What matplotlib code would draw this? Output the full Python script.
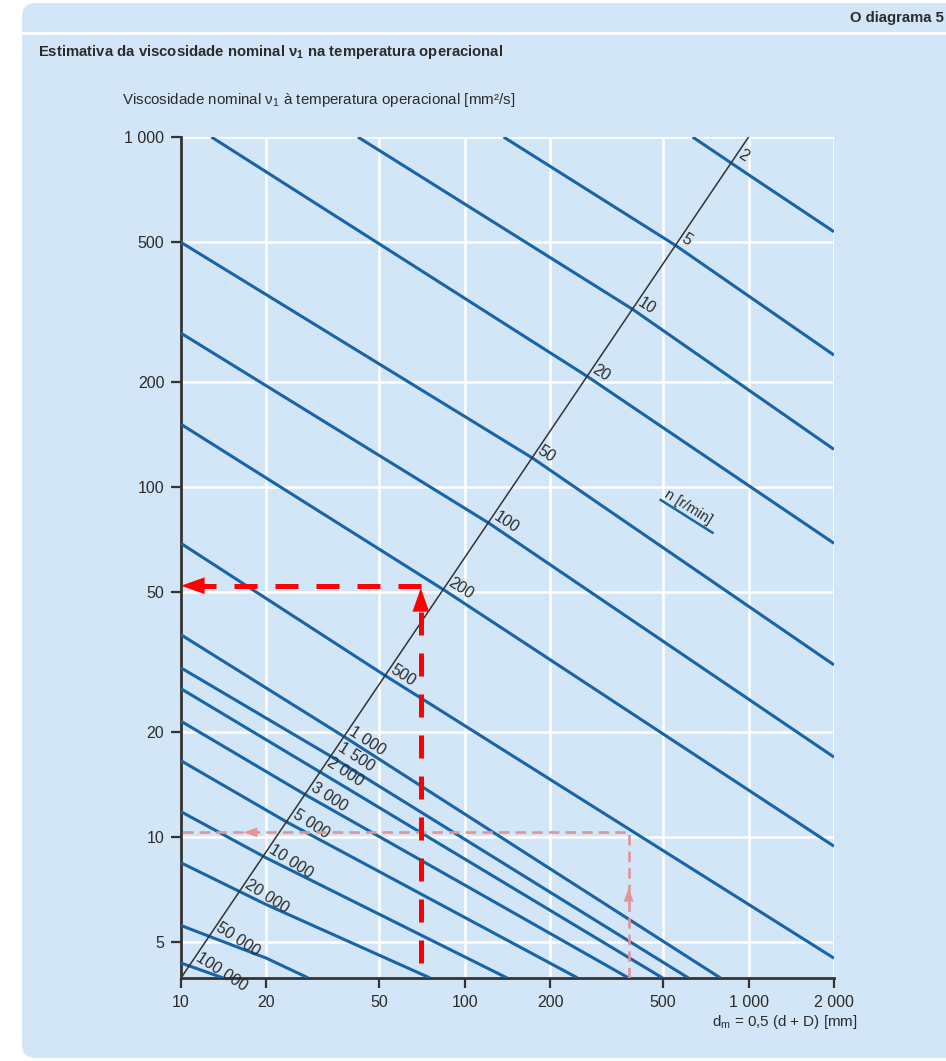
import numpy as np
import matplotlib
matplotlib.use("Agg")
import matplotlib.pyplot as plt
from matplotlib.patches import FancyBboxPatch
from matplotlib.lines import Line2D
from matplotlib.ticker import FixedLocator, FixedFormatter, NullLocator

plt.rcParams['font.family'] = ['Liberation Sans', 'DejaVu Sans']

# rotational speeds n [r/min], one curve each
speeds = [2, 5, 10, 20, 50, 100, 200, 500, 1000, 1500, 2000, 3000, 5000,
          10000, 20000, 50000, 100000]
speed_labels = ["2", "5", "10", "20", "50", "100", "200", "500", "1 000", "1 500",
                "2 000", "3 000", "5 000", "10 000", "20 000", "50 000", "100 000"]

# points: dm [mm] and nu1 [mm2/s]
curve_dm = [
    [635, 1000, 2000],
    [137, 553, 2000],
    [42, 390, 2000],
    [12.8, 270, 2000],
    [10, 173, 2000],
    [10, 121, 2000],
    [10, 84, 2000],
    [10, 52.4, 2000],
    [10, 37.3, 796],
    [10, 34.1, 614],
    [10, 31.4, 498],
    [10, 27.4, 378],
    [10, 23.7, 250],
    [10, 20, 141],
    [10, 20, 75.5],
    [10, 20, 28.1],
    [10, 14.1],
]
curve_nu = [
    [1000, 780, 536],
    [1000, 490, 238],
    [1000, 322, 128],
    [1000, 207, 69],
    [500, 121, 31],
    [275, 79, 16.9],
    [151, 50.9, 9.4],
    [69, 28.9, 4.5],
    [37.8, 19.4, 3.95],
    [30.4, 16.9, 3.95],
    [26.5, 15.2, 3.95],
    [21.4, 13.2, 3.95],
    [16.5, 11.0, 3.95],
    [11.8, 8.7, 3.95],
    [8.43, 6.4, 3.95],
    [5.58, 4.5, 3.95],
    [4.36, 3.95],
]

# black diagonal reference line and where each curve crosses it (dm)
diag_dm = [10, 1000]
diag_nu = [3.95, 1000]
cross_dm = [878, 553, 390, 270, 173, 121, 84, 52.4, 37.3, 34.1, 31.4, 27.4,
            23.7, 19.5, 16.1, 12.7, 10.8]

# worked examples (red dashed)
ex_dm, ex_nu = 70, 52.2
ex2_dm, ex2_nu = 378, 10.3

x_ticks = [10, 20, 50, 100, 200, 500, 1000, 2000]
x_ticklabels = ["10", "20", "50", "100", "200", "500", "1 000", "2 000"]
y_ticks = [5, 10, 20, 50, 100, 200, 500, 1000]
y_ticklabels = ["5", "10", "20", "50", "100", "200", "500", "1 000"]

bg = '#d2e6f7'
blue = '#1864a8'
txt = '#2b2b2b'

fig = plt.figure(figsize=(9.46, 10.61), dpi=100)
fig.patch.set_facecolor('white')

# panel
panel = FancyBboxPatch((22, 3), 960, 1055, boxstyle="round,pad=0,rounding_size=14",
                       transform=None, facecolor=bg, edgecolor='none', zorder=-2)
fig.patches.append(panel)
fig.lines.append(Line2D([22 / 946, 1], [1 - 33 / 1061] * 2, transform=fig.transFigure,
                        color='white', lw=2, zorder=-1))

fig.text(944 / 946, 1 - 18 / 1061, "O diagrama 5", ha='right', va='center',
         fontsize=10.7, fontweight='bold', color=txt)
fig.text(38 / 946, 1 - 52 / 1061,
         "Estimativa da viscosidade nominal ν$_\\mathregular{1}$ na temperatura operacional",
         ha='left', va='center', fontsize=10.7, fontweight='bold', color=txt)
fig.text(122 / 946, 1 - 100 / 1061,
         "Viscosidade nominal ν$_\\mathregular{1}$ à temperatura operacional [mm²/s]",
         ha='left', va='center', fontsize=10.9, color=txt)
fig.text(858 / 946, 1 - 1022 / 1061, "d$_\\mathregular{m}$ = 0,5 (d + D) [mm]",
         ha='right', va='center', fontsize=10.9, color=txt)

ax = fig.add_axes([181 / 946, 1 - 978 / 1061, 653 / 946, 841 / 1061])
ax.set_xscale('log')
ax.set_yscale('log')
ax.set_xlim(10, 2000)
ax.set_ylim(3.95, 1000)
ax.patch.set_alpha(0)

for dm, nu in zip(curve_dm, curve_nu):
    ax.plot(dm, nu, color=blue, lw=2.2, solid_capstyle='butt', zorder=3)

ax.plot(diag_dm, diag_nu, color='#333333', lw=1.1, zorder=4)

ldiag_x = np.log10(diag_dm)
ldiag_y = np.log10(diag_nu)
for lab, cx in zip(speed_labels, cross_dm):
    cy = 10 ** np.interp(np.log10(cx), ldiag_x, ldiag_y)
    ax.annotate(lab, (cx, cy), xytext=(2, 1), textcoords='offset points',
                rotation=-33, rotation_mode='anchor', ha='left', va='bottom',
                fontsize=11.5, color=txt, zorder=5)

# n [r/min] legend mark
ax.plot([490, 746], [91.8, 74], color=blue, lw=1.8, zorder=3)
ax.annotate("n [r/min]", (490, 91.8), xytext=(1, 1), textcoords='offset points',
            rotation=-32, rotation_mode='anchor', ha='left', va='bottom',
            fontsize=10.5, color=txt, zorder=5)

# pale example
pale = '#e3939c'
ax.plot([ex2_dm, ex2_dm, 10], [3.95, ex2_nu, ex2_nu], color=pale, lw=1.9,
        ls=(0, (4, 2.3)), zorder=6)
ax.annotate('', xy=(16.6, ex2_nu), xytext=(18.7, ex2_nu),
            arrowprops=dict(arrowstyle='-|>,head_length=1.0,head_width=0.35',
                            mutation_scale=10, color=pale, lw=0, shrinkA=0, shrinkB=0),
            zorder=6)
ax.annotate('', xy=(ex2_dm, 7.15), xytext=(ex2_dm, 6.47),
            arrowprops=dict(arrowstyle='-|>,head_length=1.0,head_width=0.35',
                            mutation_scale=10, color=pale, lw=0, shrinkA=0, shrinkB=0),
            zorder=6)

# bold example
ax.plot([ex_dm, ex_dm], [4.36, 46.0], color='red', lw=3.6, ls=(0, (4.6, 3.6)), zorder=7)
ax.plot([ex_dm, 11.96], [ex_nu, ex_nu], color='red', lw=3.6, ls=(0, (4.6, 3.6)), zorder=7)
ax.annotate('', xy=(ex_dm, 51.4), xytext=(ex_dm, 46.0),
            arrowprops=dict(arrowstyle='-|>,head_length=0.85,head_width=0.3',
                            mutation_scale=20, color='red', lw=0, shrinkA=0, shrinkB=0),
            zorder=7)
ax.annotate('', xy=(10, ex_nu), xytext=(11.96, ex_nu),
            arrowprops=dict(arrowstyle='-|>,head_length=0.85,head_width=0.3',
                            mutation_scale=20, color='red', lw=0, shrinkA=0, shrinkB=0),
            zorder=7)

ax.xaxis.set_major_locator(FixedLocator(x_ticks))
ax.xaxis.set_major_formatter(FixedFormatter(x_ticklabels))
ax.yaxis.set_major_locator(FixedLocator(y_ticks))
ax.yaxis.set_major_formatter(FixedFormatter(y_ticklabels))
ax.xaxis.set_minor_locator(NullLocator())
ax.yaxis.set_minor_locator(NullLocator())
ax.grid(True, color='white', lw=1.8, zorder=1)
ax.set_axisbelow(True)

for s in ['top', 'right']:
    ax.spines[s].set_visible(False)
for s in ['left', 'bottom']:
    ax.spines[s].set_color('#333333')
    ax.spines[s].set_linewidth(2)
ax.tick_params(direction='out', length=7, width=1.6, color='#333333',
               labelsize=11.5, labelcolor=txt, pad=5)

fig.savefig('out.png', dpi=100, facecolor=fig.get_facecolor())
